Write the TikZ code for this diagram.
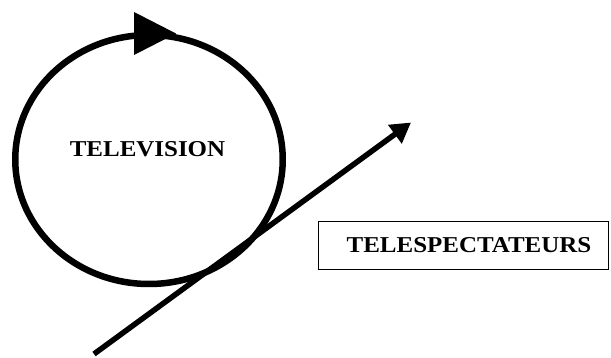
\documentclass[tikz,border=0pt]{standalone}
\usepackage{fontspec}
\setmainfont{Liberation Serif}
\usetikzlibrary{arrows.meta,shapes.geometric}
\tikzset{
  lbl/.style={inner sep=0pt, anchor=base, font=\fontsize{22.7}{27}\selectfont\bfseries},
  loopline/.style={draw=black, line width=6.5pt, shape=ellipse, inner sep=0pt},
  viewbox/.style={draw=black, line width=1pt, shape=rectangle, inner sep=0pt},
  bigarrow/.style={line width=5.5pt, -{Triangle[length=20pt, width=22pt]}}
}
\begin{document}
\begin{tikzpicture}[x=1pt, y=-1pt]
\useasboundingbox (0,0) rectangle (611,358);
% circle
\node[loopline, minimum width=267.5pt, minimum height=249pt] (tv) at (149,159.5) {};
\fill (134,12) -- (176,33.5) -- (134,55) -- cycle;
\node[lbl] (tvlabel) at (147.5,157) {\scalebox{1.1}[1]{TELEVISION}};
% box
\node[viewbox, minimum width=290pt, minimum height=48pt] (box) at (463,246) {};
\node[lbl] (boxlabel) at (469,253) {\scalebox{1.1}[1]{TELESPECTATEURS}};
% arrow
\coordinate (start) at (94,354);
\coordinate (end) at (411,122.5);
\draw[bigarrow] (start) -- (end);
\end{tikzpicture}
\end{document}
